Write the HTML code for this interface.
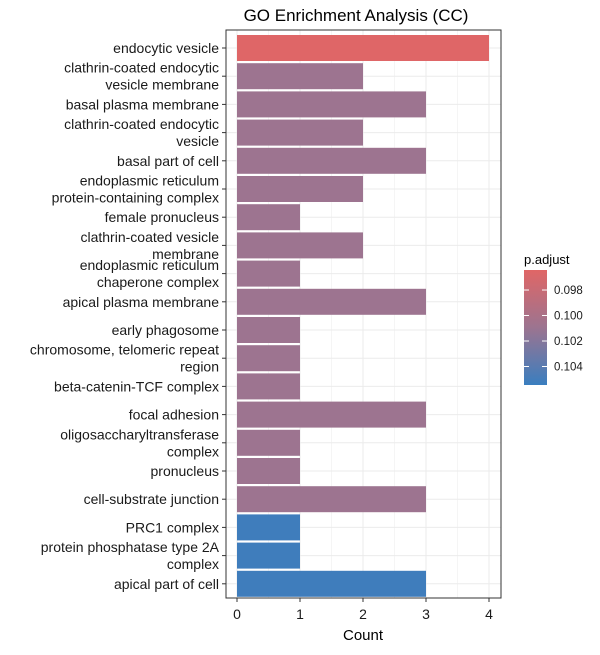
<!DOCTYPE html>
<html><head><meta charset="utf-8"><style>
body{margin:0;background:#fff;font-family:"Liberation Sans",Arial,sans-serif}
</style></head><body>
<svg id="chart" width="600" height="650" xmlns="http://www.w3.org/2000/svg">
<defs><linearGradient id="grad" x1="0" y1="0" x2="0" y2="1">
<stop offset="0" stop-color="#E06666"/><stop offset="0.5" stop-color="#9C7490"/><stop offset="1" stop-color="#3A7EBF"/></linearGradient></defs>
<text x="356" y="21" font-size="17" text-anchor="middle" fill="#000">GO Enrichment Analysis (CC)</text>
<g id="grid"></g><g id="bars"></g><g id="ylabels"></g><g id="xticks"></g>
<rect x="226" y="30" width="275" height="568" fill="none" stroke="#333" stroke-width="1"/>
<text x="363" y="640" font-size="15" text-anchor="middle">Count</text>
<text x="524" y="264" font-size="13">p.adjust</text>
<rect x="524" y="270" width="23" height="115" fill="url(#grad)"/>
<g id="legend"></g>
</svg>
<script>
const categories=["endocytic vesicle","clathrin-coated endocytic|vesicle membrane","basal plasma membrane","clathrin-coated endocytic|vesicle","basal part of cell","endoplasmic reticulum|protein-containing complex","female pronucleus","clathrin-coated vesicle|membrane","endoplasmic reticulum|chaperone complex","apical plasma membrane","early phagosome","chromosome, telomeric repeat|region","beta-catenin-TCF complex","focal adhesion","oligosaccharyltransferase|complex","pronucleus","cell-substrate junction","PRC1 complex","protein phosphatase type 2A|complex","apical part of cell"];
const counts=[4,2,3,2,3,2,1,2,1,3,1,1,1,3,1,1,3,1,1,3];
const padj=[0.0965,0.1009,0.1009,0.1009,0.1009,0.1009,0.1009,0.1009,0.1009,0.1009,0.1009,0.1009,0.1009,0.1009,0.1009,0.1009,0.1009,0.1052,0.1052,0.1052];
const xTicks=[0,1,2,3,4];
const legendTicks=[0.098,0.100,0.102,0.104];
const ns="http://www.w3.org/2000/svg";
const x=v=>237+v*63;
const y=i=>48+i*28.2;
const pMin=0.09643,pMax=0.10545;
const ly=p=>270+(p-pMin)/(pMax-pMin)*115;
function col(p){let t=(p-pMin)/(pMax-pMin);t=Math.max(0,Math.min(1,t));const a=[224,102,102],m=[156,116,144],b=[58,126,191];let c;
 if(t<0.5){const s=t/0.5;c=a.map((v,k)=>v+(m[k]-v)*s);}else{const s=(t-0.5)/0.5;c=m.map((v,k)=>v+(b[k]-v)*s);}
 return `rgb(${c.map(Math.round).join(',')})`;}
function mk(tag,at,parent){const e=document.createElementNS(ns,tag);for(const k in at)e.setAttribute(k,at[k]);document.getElementById(parent).appendChild(e);return e;}
for(let v=0;v<=4;v+=0.5){const g=mk('line',{x1:x(v),x2:x(v),y1:30,y2:598,stroke:'#ebebeb','stroke-width':v%1?0.5:1},'grid');

}
categories.forEach((c,i)=>{
 const g=mk('line',{x1:226,x2:501,y1:y(i),y2:y(i),stroke:'#ebebeb'},'grid');
 
 
 const r=mk('rect',{x:x(0),y:y(i)-13,width:x(counts[i])-x(0),height:26,fill:col(padj[i])},'bars');
 
 
 const tk=mk('line',{x1:222,x2:226,y1:y(i),y2:y(i),stroke:'#333'},'ylabels');
 
 
 const lines=c.split('|');
 lines.forEach((l,j)=>{const t=mk('text',{x:219,y:y(i)+5+(j-(lines.length-1)/2)*17,'font-size':14,'text-anchor':'end',fill:'#1a1a1a'},'ylabels');t.textContent=l;
 
 });
});
xTicks.forEach(v=>{const l=mk('line',{x1:x(v),x2:x(v),y1:598,y2:602,stroke:'#333'},'xticks');


const t=mk('text',{x:x(v),y:619,'font-size':14,'text-anchor':'middle',fill:'#1a1a1a'},'xticks');t.textContent=v;

});
legendTicks.forEach(p=>{const yy=ly(p);
mk('line',{x1:524,x2:529,y1:yy,y2:yy,stroke:'#fff'},'legend');
mk('line',{x1:542,x2:547,y1:yy,y2:yy,stroke:'#fff'},'legend');
const t=mk('text',{x:554,y:yy+4,'font-size':11.5,fill:'#1a1a1a'},'legend');t.textContent=p.toFixed(3);

});
</script>
</body></html>
